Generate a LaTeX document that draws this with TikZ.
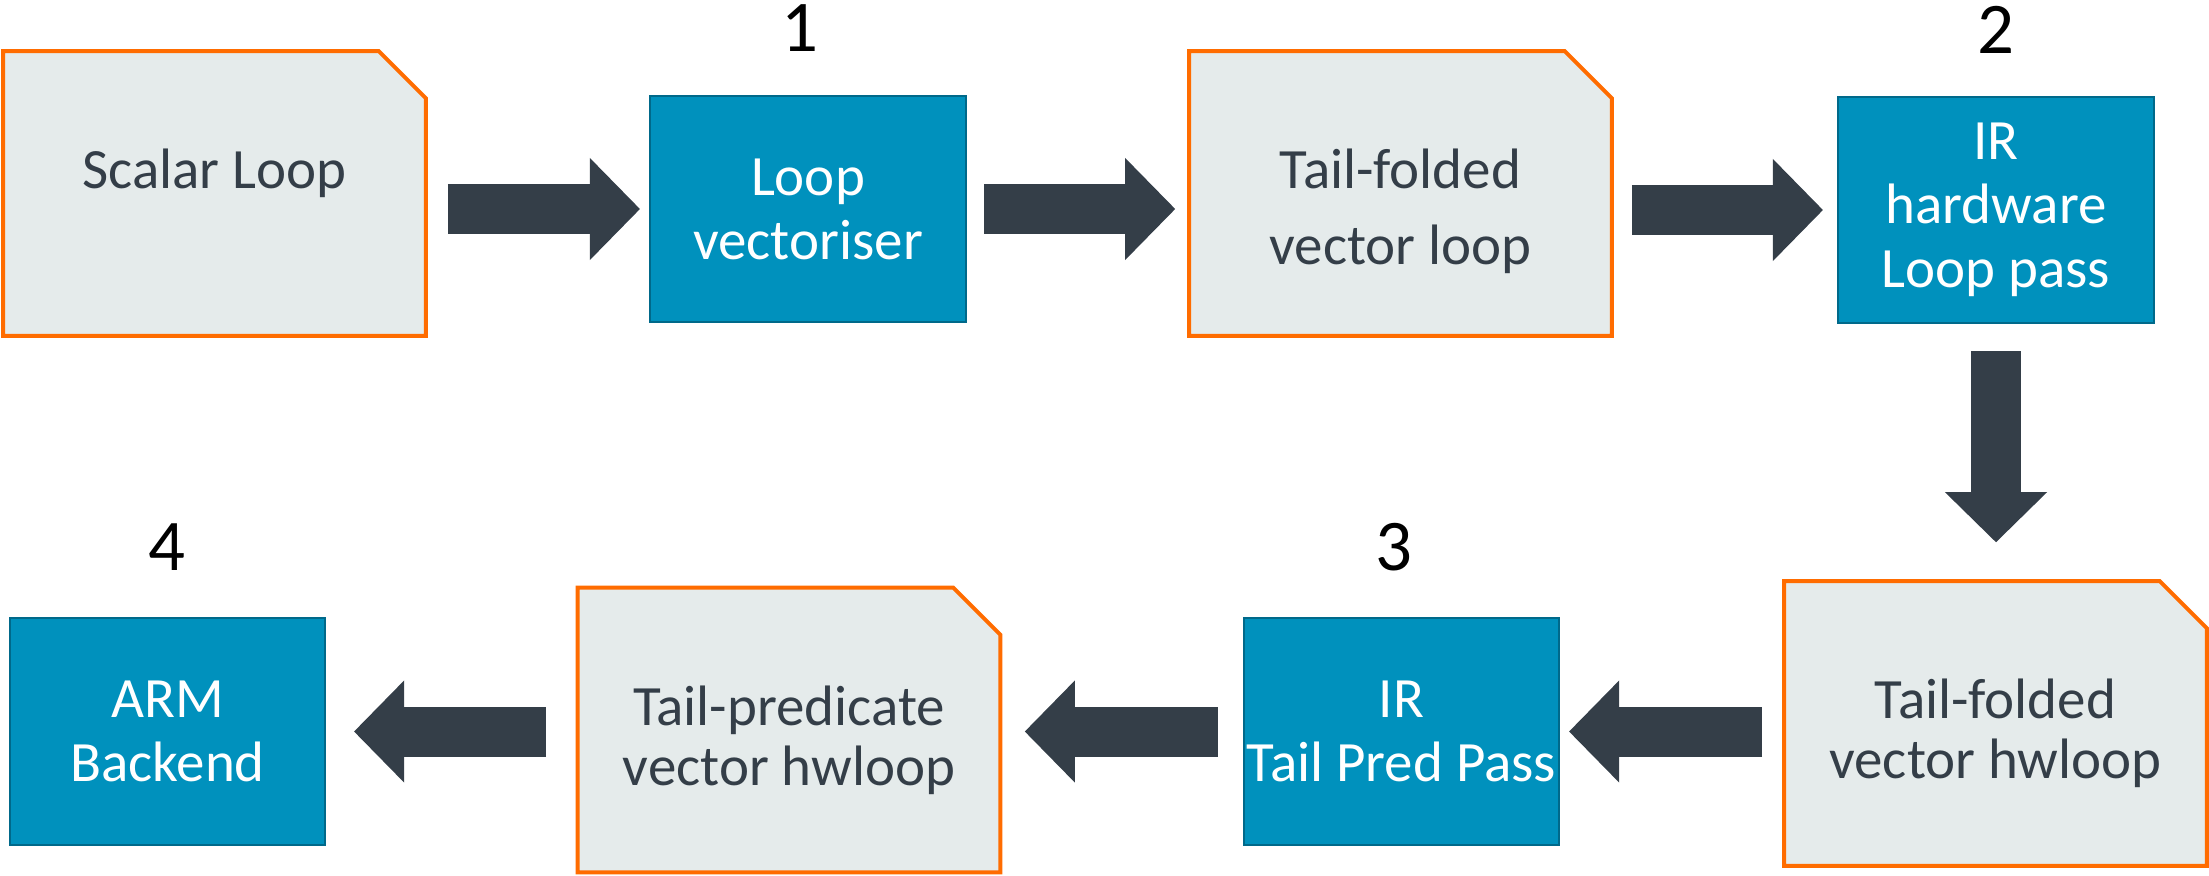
\documentclass[tikz,border=0pt]{standalone}
\usepackage{fontspec}
\setmainfont{Carlito}
\usetikzlibrary{arrows.meta,calc,positioning,backgrounds}

\definecolor{passblue}{HTML}{0091BD}
\definecolor{passedge}{HTML}{00698A}
\definecolor{docfill}{HTML}{E5EBEB}
\definecolor{docedge}{HTML}{FF6C00}
\definecolor{ink}{HTML}{343E48}

\tikzset{
  pass/.style={draw=passedge, line width=0.02cm, fill=passblue, text=white,
    align=center, inner sep=0pt, minimum width=3.15cm, minimum height=2.26cm,
    font=\fontsize{16.2}{18.2}\selectfont},
  docbox/.style={inner sep=0pt, minimum width=4.21cm, minimum height=2.83cm},
  doctext/.style={text=ink, align=center, inner sep=0pt,
    font=\fontsize{16.2}{17.1}\selectfont},
  stepno/.style={anchor=base, inner sep=0pt, font=\fontsize{20.7}{24}\selectfont},
  flow/.style={draw=ink, line width=0.5cm,
    -{Triangle[width=1.02cm,length=0.5cm,line width=0pt]}},
}

% snipped-corner outline behind a docbox node
\newcommand{\snipbox}[1]{%
  \filldraw[fill=docfill, draw=docedge, line width=0.04cm, line join=miter]
    (#1.south west) -- (#1.north west) -- ($(#1.north east)+(-47,0)$)
    -- ($(#1.north east)+(0,47)$) -- (#1.south east) -- cycle;}

\begin{document}
\begin{tikzpicture}[x=0.01cm, y=-0.01cm]
    \useasboundingbox (0,0) rectangle (2209,875);

    % Top row
    \node[docbox] (scalar) at (214.5,193.5) {};
    \node[pass]   (vec)    at (808,209)     {Loop\\vectoriser};
    \node[docbox] (tfloop) at (1400.5,193.5) {};
    \node[pass]   (irhw)   at (1996,210)    {IR\\hardware\\Loop pass};

    % Bottom row
    \node[docbox] (hwdoc)  at (1995.5,723.5) {};
    \node[pass]   (tpp)    at (1401.5,731.5) {IR\\Tail Pred Pass};
    \node[docbox] (tpred)  at (789,730)      {};
    \node[pass]   (arm)    at (167.5,731.5)  {ARM\\Backend};

    % Texts of the loop boxes
    \node[doctext, below=0.97cm of scalar.north] (scalar-t) {Scalar Loop};
    \node[doctext, below=0.97cm of tfloop.north, font=\fontsize{16.2}{21.6}\selectfont]
        (tfloop-t) {Tail-folded\\vector loop};
    \node[doctext, below=0.97cm of hwdoc.north] (hwdoc-t) {Tail-folded\\vector hwloop};
    \node[doctext, below=0.97cm of tpred.north] (tpred-t) {Tail-predicate\\vector hwloop};

    \begin{scope}[on background layer]
        \snipbox{scalar}
        \snipbox{tfloop}
        \snipbox{hwdoc}
        \snipbox{tpred}
    \end{scope}

    % Step numbers
    \node[stepno] (n1) at (800,51)  {1};
    \node[stepno] (n2) at (1996,53) {2};
    \node[stepno] (n3) at (1394,570) {3};
    \node[stepno] (n4) at (167,570) {4};

    % Flow arrows
    \draw[flow] ($(scalar.east |- vec.west)+(22,0)$) -- ($(vec.west)+(-9.5,0)$);
    \draw[flow] ($(vec.east)+(17.5,0)$) -- ($(tfloop.west |- vec.east)+(-14,0)$);
    \draw[flow] ($(tfloop.east |- irhw.west)+(20,0)$) -- ($(irhw.west)+(-14.5,0)$);
    \draw[flow] ($(irhw.south)+(0,27)$) -- ($(irhw.south |- hwdoc.north)+(0,-39)$);
    \draw[flow] ($(hwdoc.west |- tpp.east)+(-22,0)$) -- ($(tpp.east)+(9,0)$);
    \draw[flow] ($(tpp.west)+(-25,0)$) -- ($(tpred.east |- tpp.west)+(24.5,0)$);
    \draw[flow] ($(tpred.west |- arm.east)+(-31.5,0)$) -- ($(arm.east)+(28,0)$);
\end{tikzpicture}
\end{document}
